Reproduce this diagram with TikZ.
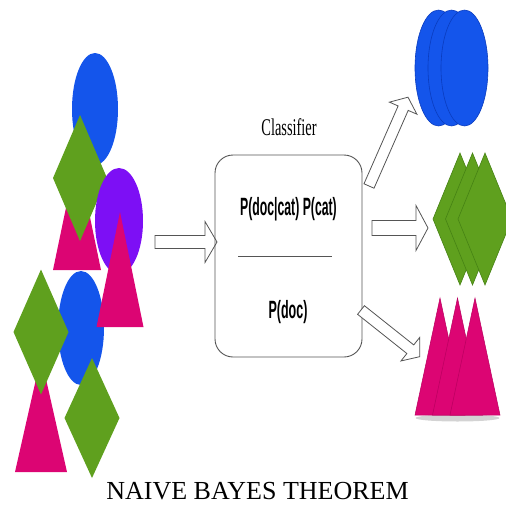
\documentclass[tikz,border=0pt]{standalone}
\usepackage{fontspec}
\setmainfont{Liberation Serif}
\newfontfamily\arialf{Liberation Sans}
\definecolor{blueE}{RGB}{20,85,235}
\definecolor{blueD}{RGB}{10,60,190}
\definecolor{purpleE}{RGB}{125,15,245}
\definecolor{greenE}{RGB}{95,160,30}
\definecolor{greenD}{RGB}{70,130,20}
\definecolor{magE}{RGB}{220,5,115}
\definecolor{magD}{RGB}{185,0,95}
\definecolor{lineG}{RGB}{85,85,85}
\tikzset{
  arrline/.style={draw=lineG, line width=0.8pt, fill=white, line join=miter},
  ell/.style={fill=#1, draw=none},
  shp/.style={fill=#1, draw=none}
}
\newcommand\blockarr[5]{%
  \begin{scope}[shift={#1},rotate=#2]
    \draw[arrline] (0,-#4) -- ({#3-12},-#4) -- ({#3-12},-#5) -- (#3,0)
      -- ({#3-12},#5) -- ({#3-12},#4) -- (0,#4) -- cycle;
  \end{scope}}
\newcommand\dmd[4]{% cx cy hw hh
  (#1-#3,#2) -- (#1,#2-#4) -- (#1+#3,#2) -- (#1,#2+#4) -- cycle}
\newcommand\tri[4]{% apex x, apex y, base y, half width
  (#1,#2) -- (#1+#4,#3) -- (#1-#4,#3) -- cycle}
\begin{document}
\begin{tikzpicture}[x=1pt,y=-1pt]
\useasboundingbox (0,0) rectangle (506,506);
\clip (0,0) rectangle (506,506);
% ---------- left mixed group ----------
\fill[blueE] (95,109) ellipse [x radius=23, y radius=56];
\fill[magE] \tri{77}{155}{270}{24};
\fill[greenE] \dmd{80}{178}{27}{63};
\fill[blueE] (81,328) ellipse [x radius=23, y radius=57];
\fill[purpleE] (119,221) ellipse [x radius=24, y radius=53];
\fill[magE] \tri{120}{212}{327}{23.5};
\fill[magE] \tri{41}{357}{472}{26};
\fill[greenE] \dmd{41}{332}{27.5}{62.5};
\fill[greenE] \dmd{92}{418}{27.5}{60};
% ---------- input arrow ----------
\blockarr{(155,242)}{0}{62}{6.5}{20.5}
% ---------- classifier ----------
\node[draw=lineG, line width=0.9pt, rounded corners=18pt, minimum width=147pt,
      minimum height=202pt, inner sep=0pt] (clf) at (288.5,256) {};
\node[anchor=base, inner sep=0pt] (cls) at (289,135)
  {\scalebox{0.6}[1]{\fontsize{24}{24}\selectfont Classifier}};
\node[anchor=base, inner sep=0pt] (num) at (288.5,215)
  {\scalebox{0.49}[1]{\arialf\bfseries\fontsize{25}{25}\selectfont P(doc|cat) P(cat)}};
\coordinate (fl) at (238,256);
\coordinate (fr) at (332,256);
\draw[lineG, line width=0.7pt] (fl) -- (fr);
\node[anchor=base, inner sep=0pt] (den) at (288,318)
  {\scalebox{0.5}[1]{\arialf\bfseries\fontsize{25}{25}\selectfont P(doc)}};
% ---------- output arrows ----------
\blockarr{(369,186)}{66.3}{97}{5.5}{15}
\blockarr{(372,228)}{0}{56}{7.5}{22.5}
\blockarr{(361,310)}{-38.5}{75}{5.5}{15}
% ---------- right stacks ----------
\foreach \cx in {438.5,451.5,464.5}
  \filldraw[fill=blueE, draw=blueD, line width=0.6pt] (\cx,68) ellipse [x radius=23.5, y radius=58];
\foreach \cx in {460,472.5,485}
  \filldraw[fill=greenE, draw=greenD, line width=0.6pt] \dmd{\cx}{219}{27}{66};
\fill[gray, opacity=0.35] (457.5,418) ellipse [x radius=42, y radius=3.5];
\foreach \cx in {440,457.5,475}
  \filldraw[fill=magE, draw=magD, line width=0.5pt] \tri{\cx}{298}{415}{25};
% ---------- title ----------
\node[anchor=base, inner sep=0pt] (ttl) at (257.5,499)
  {\fontsize{26}{26}\selectfont NAIVE BAYES THEOREM};
\end{tikzpicture}
\end{document}
